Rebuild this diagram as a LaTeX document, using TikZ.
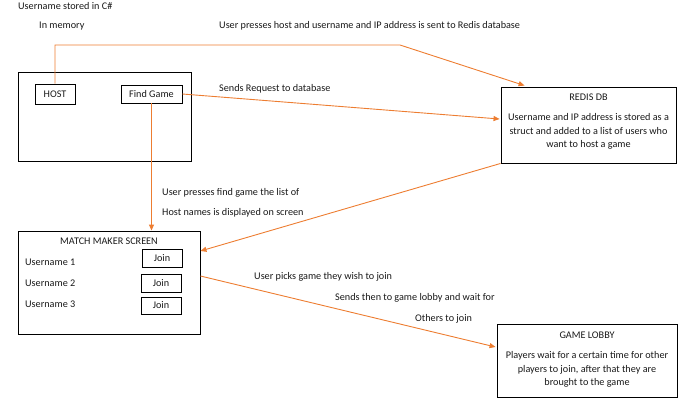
\documentclass[tikz,border=0pt]{standalone}
\usepackage{fontspec}
\setmainfont{Carlito}
\usetikzlibrary{arrows.meta}
\definecolor{conncol}{HTML}{ED7D31}
\begin{document}
\begin{tikzpicture}[x=1pt,y=1pt,
  box/.style={draw=black,line width=0.9pt,inner sep=0pt},
  txt/.style={inner sep=0pt,font=\fontsize{10.2}{13.5}\selectfont,text=black!90},
  conn/.style={draw=conncol,line width=0.9pt,-{Triangle[length=6pt,width=5pt]}}]
\useasboundingbox (0,0) rectangle (695,-413);
% boxes
\node[box,minimum width=173,minimum height=89] (screen) at (104.5,-116.5) {};
\node[box,minimum width=40,minimum height=20] (host) at (55,-94) {};
\node[txt] (hostt) at (host.center) {HOST};
\node[box,minimum width=61,minimum height=18] (find) at (151.5,-94) {};
\node[txt] (findt) at (find.center) {Find Game};
\node[box,minimum width=175,minimum height=76] (redis) at (588.5,-125) {};
\node[txt] (redist) at (588.5,-97) {REDIS DB};
\node[txt,align=center] (redisb) at (588.5,-131.5) {Username and IP address is stored as a\\struct and added to a list of users who\\want to host a game};
\node[box,minimum width=182,minimum height=103] (match) at (109,-282.5) {};
\node[txt] (matcht) at (109,-241) {MATCH MAKER SCREEN};
\node[txt,anchor=west] (u1) at (25,-262) {Username 1};
\node[txt,anchor=west] (u2) at (25,-283) {Username 2};
\node[txt,anchor=west] (u3) at (25,-304) {Username 3};
\node[box,minimum width=40,minimum height=18] (join1) at (162,-258) {};
\node[txt] (join1t) at (join1.center) {Join};
\node[box,minimum width=40,minimum height=18] (join2) at (161,-283) {};
\node[txt] (join2t) at (join2.center) {Join};
\node[box,minimum width=40,minimum height=17] (join3) at (161,-305.5) {};
\node[txt] (join3t) at (join3.center) {Join};
\node[box,minimum width=180,minimum height=73] (lobby) at (587,-360.5) {};
\node[txt] (lobbyt) at (587,-335) {GAME LOBBY};
\node[txt,align=center] (lobbyb) at (587,-369.5) {Players wait for a certain time for other\\players to join, after that they are\\brought to the game};
% free labels
\node[txt,anchor=west] (l1) at (18,-5.5) {Username stored in C\#};
\node[txt,anchor=west] (l2) at (39,-26) {In memory};
\node[txt,anchor=west] (l3) at (219,-26) {User presses host and username and IP address is sent to Redis database};
\node[txt,anchor=west] (l4) at (219,-89) {Sends Request to database};
\node[txt,anchor=west] (l5) at (162,-193) {User presses find game the list of};
\node[txt,anchor=west] (l6) at (162,-213) {Host names is displayed on screen};
\node[txt,anchor=west] (l7) at (254,-277) {User picks game they wish to join};
\node[txt,anchor=west] (l8) at (335,-298) {Sends then to game lobby and wait for};
\node[txt,anchor=west] (l9) at (415,-319) {Others to join};
% connectors
\coordinate (bend1) at (400,-45);
\draw[conn] (host.north) |- (bend1) -- ([xshift=24pt,yshift=1pt]redis.north west);
\draw[conn] (find.east) -- ([yshift=6pt,xshift=-1pt]redis.west);
\draw[conn] (find.south) -- (find.south |- match.north);
\draw[conn] (redis.south west) -- ([yshift=31.5pt]match.east);
\draw[conn] ([yshift=6.5pt]match.east) -- ([yshift=13.5pt,xshift=-1pt]lobby.west);
\end{tikzpicture}
\end{document}
